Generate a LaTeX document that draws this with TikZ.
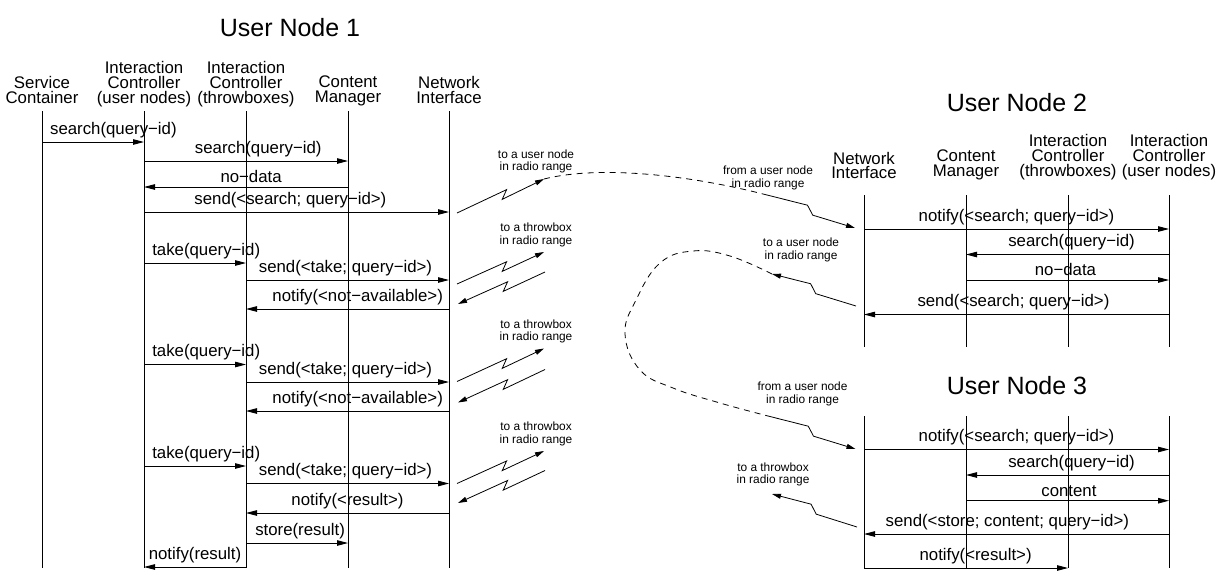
\documentclass[tikz,border=0pt]{standalone}
\usepackage{fontspec}
\setmainfont{Liberation Sans}
\usetikzlibrary{arrows.meta,calc}

\begin{document}
\begin{tikzpicture}[x=1pt, y=-1pt,
    every node/.style={inner sep=0pt},
    life/.style={line width=0.9pt},
    msg/.style={line width=0.9pt, -{Triangle[length=11pt,width=5.5pt]}},
    lbl/.style={above=4pt, font=\fontsize{16.8}{15}\selectfont},
    head/.style={anchor=north, align=center, font=\fontsize{16.8}{15}\selectfont},
    title/.style={font=\fontsize{25}{30}\selectfont},
    note/.style={align=center, font=\fontsize{11.9}{12.8}\selectfont},
    bolt/.style={line width=0.8pt, -{Triangle[length=9pt,width=5pt]}},
    link/.style={line width=0.8pt, dash pattern=on 6pt off 5pt}]
    \useasboundingbox (0,0) rectangle (1223,571);

    % titles
    \node[title] (t1) at (290,27.6) {User Node 1};
    \node[title] (t2) at (1017,102.6) {User Node 2};
    \node[title] (t3) at (1017,386) {User Node 3};

    % headers
    \node[head] (hsc1) at (42,76) {Service\\Container};
    \node[head] (hicu1) at (144,61) {Interaction\\Controller\\(user nodes)};
    \node[head] (hict1) at (246,61) {Interaction\\Controller\\(throwboxes)};
    \node[head] (hcm1) at (348,76) {Content\\Manager};
    \node[head] (hni1) at (449,76) {Network\\Interface};
    \node[head, font=\fontsize{16.8}{14.5}\selectfont] (hni2) at (864,152) {Network\\Interface};
    \node[head] (hcm2) at (966,150) {Content\\Manager};
    \node[head] (hict2) at (1068,134) {Interaction\\Controller\\(throwboxes)};
    \node[head] (hicu2) at (1169,134) {Interaction\\Controller\\(user nodes)};

    % lifelines
    \foreach \n/\x in {sc1/42,icu1/144,ict1/246,cm1/348,ni1/449} {
      \coordinate (\n) at (\x,111);
      \draw[life] (\n) -- (\n |- 0,568);
    }
    \foreach \n/\x in {ni2/864,cm2/966,ict2/1068,icu2/1169} {
      \coordinate (\n) at (\x,195);
      \draw[life] (\n) -- (\n |- 0,347);
    }
    \foreach \n/\x in {ni3/864,cm3/966,ict3/1068,icu3/1169} {
      \coordinate (\n) at (\x,416);
      \draw[life] (\n) -- (\n |- 0,568);
    }

    % messages
    \foreach \a/\b/\y/\p/\t in {
      sc1/icu1/142/0.70/search(query−id),
      icu1/cm1/161/0.56/search(query−id),
      cm1/icu1/187/0.475/no−data,
      icu1/ni1/212/0.48/send(<search; query−id>),
      icu1/ict1/263/0.61/take(query−id),
      ict1/ni1/280/0.49/send(<take; query−id>),
      ni1/ict1/309/0.45/notify(<not−available>),
      icu1/ict1/364.5/0.61/take(query−id),
      ict1/ni1/382/0.49/send(<take; query−id>),
      ni1/ict1/411/0.45/notify(<not−available>),
      icu1/ict1/466/0.61/take(query−id),
      ict1/ni1/483.5/0.49/send(<take; query−id>),
      ni1/ict1/513/0.5/notify(<result>),
      ict1/cm1/543/0.53/store(result),
      ict1/icu1/567/0.5/notify(result),
      ni2/icu2/229/0.5/notify(<search; query−id>),
      icu2/cm2/254.5/0.48/search(query−id),
      cm2/icu2/280/0.49/no−data,
      icu2/ni2/314.5/0.51/send(<search; query−id>),
      ni3/icu3/449.5/0.5/notify(<search; query−id>),
      icu3/cm3/475/0.48/search(query−id),
      cm3/icu3/500.7/0.507/content,
      icu3/ni3/534/0.53/send(<store; content; query−id>),
      ni3/ict3/568/0.547/notify(<result>)}
      \draw[msg] (\a |- 0,\y) -- (\b |- 0,\y) node[lbl, pos=\p] {\t};

    % radio links
    \coordinate (o1l) at (457,213);   \coordinate (o1r) at (544,179);
    \coordinate (o2l) at (457,284);   \coordinate (o2r) at (544,252);
    \coordinate (o3l) at (457,381.5); \coordinate (o3r) at (544,348.5);
    \coordinate (o4l) at (457,483.5); \coordinate (o4r) at (544,451);
    \coordinate (i2l) at (458,304);   \coordinate (i2r) at (545,272);
    \coordinate (i3l) at (458,402.5); \coordinate (i3r) at (545,369.5);
    \coordinate (i4l) at (458,503);   \coordinate (i4r) at (545,470.5);
    \coordinate (f2l) at (767,195);   \coordinate (f2r) at (855,228);
    \coordinate (g2l) at (772,274);   \coordinate (g2r) at (856,306);
    \coordinate (f3l) at (768,416);   \coordinate (f3r) at (855.5,449);
    \coordinate (g3l) at (772,494);   \coordinate (g3r) at (857,527);

    \foreach \s in {o1,o2,o3,o4}
      \draw[bolt] (\s l) -- ($(\s l)!0.57!(\s r)+(0,-4)$) -- ($(\s l)!0.52!(\s r)+(0,4)$) -- (\s r);
    \foreach \s in {i2,i3,i4}
      \draw[bolt] (\s r) -- ($(\s l)!0.52!(\s r)+(0,4)$) -- ($(\s l)!0.57!(\s r)+(0,-4)$) -- (\s l);
    \foreach \s in {f2,f3}
      \draw[bolt] (\s l) -- ($(\s l)!0.46!(\s r)+(0,-5)$) -- ($(\s l)!0.52!(\s r)+(0,3)$) -- (\s r);
    \foreach \s in {g2,g3}
      \draw[bolt] (\s r) -- ($(\s l)!0.52!(\s r)+(0,3)$) -- ($(\s l)!0.46!(\s r)+(0,-5)$) -- (\s l);

    \draw[link] (o1r) .. controls (600,165) and (690,175) .. (f2l);
    \draw[link] plot[smooth, tension=0.7] coordinates {(772,274) (730,256) (693,251)
      (660,263) (636,300) (625,334) (640,370) (673,388) (720,403) (768,416)};

    % radio notes
    \node[note] (r1) at (536,161.5) {to a user node\\in radio range};
    \node[note] (r2) at (536,235) {to a throwbox\\in radio range};
    \node[note] (r3) at (536,331.5) {to a throwbox\\in radio range};
    \node[note] (r4) at (536,434) {to a throwbox\\in radio range};
    \node[note] (r5) at (768,178) {from a user node\\in radio range};
    \node[note] (r6) at (801,250) {to a user node\\in radio range};
    \node[note] (r7) at (802.5,394) {from a user node\\in radio range};
    \node[note] (r8) at (773,474.5) {to a throwbox\\in radio range};
\end{tikzpicture}
\end{document}
